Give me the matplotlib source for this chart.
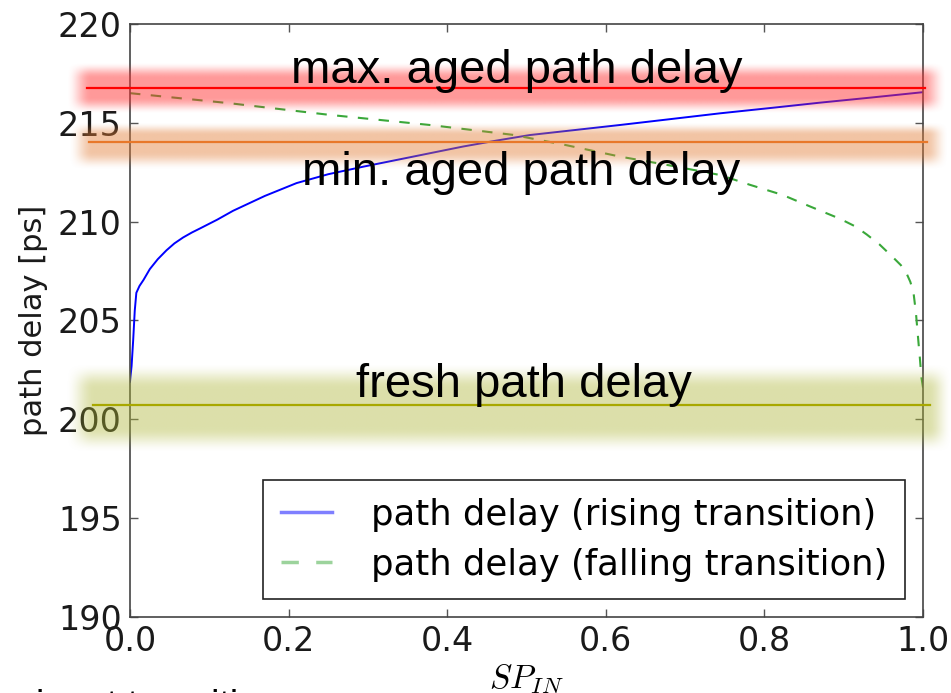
import numpy as np
import matplotlib
matplotlib.use('Agg')
import matplotlib.pyplot as plt

plt.rcParams['mathtext.fontset'] = 'cm'

# path delay for rising transition vs signal probability
sp_rise = [0, 0.002, 0.004, 0.006, 0.008, 0.012, 0.017, 0.025, 0.035, 0.046, 0.056,
           0.067, 0.078, 0.088, 0.11, 0.13, 0.17, 0.21, 0.25, 0.294, 0.336, 0.378,
           0.42, 0.462, 0.504, 0.56, 0.618, 0.68, 0.744, 0.81, 0.87, 0.935, 1.0]
delay_rise = [201.9, 202.7, 204.0, 205.5, 206.4, 206.75, 207.05, 207.6, 208.1, 208.55, 208.9,
              209.2, 209.45, 209.65, 210.1, 210.55, 211.3, 211.95, 212.4, 212.78, 213.12, 213.46,
              213.8, 214.1, 214.38, 214.63, 214.89, 215.18, 215.48, 215.76, 216.02, 216.28, 216.55]

# path delay for falling transition
sp_fall = [0, 0.126, 0.252, 0.378, 0.483, 0.55, 0.618, 0.68, 0.744, 0.782, 0.823, 0.858,
           0.895, 0.915, 0.929, 0.945, 0.962, 0.972, 0.979, 0.984, 0.988, 0.991, 0.994,
           0.996, 0.998, 1.0]
delay_fall = [216.5, 215.99, 215.4, 214.89, 214.39, 213.87, 213.29, 212.85, 212.36, 211.86, 211.35, 210.76,
              210.15, 209.75, 209.35, 208.85, 208.2, 207.8, 207.4, 206.95, 206.4, 205.4, 204.0,
              203.1, 202.1, 201.6]

# reference levels drawn over the plot
level_names = ['max. aged path delay', 'min. aged path delay', 'fresh path delay']
level_values = [216.78, 214.03, 200.71]

xticks = [0.0, 0.2, 0.4, 0.6, 0.8, 1.0]
yticks = [190, 195, 200, 205, 210, 215, 220]


def glow(ax, color, alpha, xo, xs, yo, ys):
    # soft blurred band: outer edges xo/yo, fully solid inside xs/ys
    def ramp(v, o, s):
        up = np.clip((v - o[0]) / (s[0] - o[0]), 0, 1)
        dn = np.clip((o[1] - v) / (o[1] - s[1]), 0, 1)
        t = np.minimum(up, dn)
        return t * t * (3 - 2 * t)
    gx = np.linspace(xo[0], xo[1], 600)
    gy = np.linspace(yo[0], yo[1], 200)
    a = np.outer(ramp(gy, yo, ys), ramp(gx, xo, xs))
    rgba = np.zeros((len(gy), len(gx), 4))
    rgba[..., :3] = matplotlib.colors.to_rgb(color)
    rgba[..., 3] = a * alpha
    ax.imshow(rgba, extent=(xo[0], xo[1], yo[0], yo[1]), origin='lower',
              aspect='auto', interpolation='bilinear', clip_on=False, zorder=3)


fig = plt.figure(figsize=(9.51, 6.93), dpi=100)
ax = fig.add_axes([0.1367, 0.1097, 0.8339, 0.8557])

ax.plot(sp_rise, delay_rise, color='#0000ff', lw=1.4, label='path delay (rising transition)', zorder=2)
ax.plot(sp_fall, delay_fall, color='#3aa83a', lw=1.5, dashes=(5, 5),
        label='path delay (falling transition)', zorder=2)

# glowing bands behind the level lines
glow(ax, '#ff3333', 0.5, (-0.081, 1.029), (-0.050, 0.998), (215.45, 218.08), (216.3, 217.25))
glow(ax, '#e27c35', 0.45, (-0.078, 1.032), (-0.048, 1.004), (212.62, 215.04), (213.55, 214.37))
glow(ax, '#adb535', 0.42, (-0.082, 1.036), (-0.046, 1.006), (198.3, 202.85), (199.6, 201.55))

line_colors = ['#ff0000', '#e8782a', '#a8a800']
line_x = [(-0.054, 1.0025), (-0.052, 1.005), (-0.047, 1.009)]
for val, c, xr in zip(level_values, line_colors, line_x):
    ax.plot(list(xr), [val, val], color=c, lw=1.6, clip_on=False, zorder=4)

# text labels for the levels
text_pos = [(0.488, 217.02), (0.493, 211.86), (0.497, 201.13)]
for name, (tx, ty) in zip(level_names, text_pos):
    ax.text(tx, ty, name, ha='center', va='baseline', fontsize=34,
            family='Liberation Sans', color='black', zorder=5)

ax.set_xlim(0, 1)
ax.set_ylim(190, 220)
ax.set_xticks(xticks)
ax.set_yticks(yticks)
ax.set_xticklabels(['%.1f' % t for t in xticks])
ax.tick_params(direction='in', length=6, width=1, top=True, right=True,
               labelsize=24, pad=6)
ax.tick_params(axis='both', colors='#555555', labelcolor='#1a1a1a')
for s in ax.spines.values():
    s.set_color('#444444')
    s.set_linewidth(1.2)

ax.set_ylabel('path delay [ps]', fontsize=22, color='#1a1a1a', labelpad=7)
ax.set_xlabel('$SP_{IN}$', fontsize=24, labelpad=3)

leg = ax.legend(loc='lower right', fontsize=25.5, fancybox=False, framealpha=1,
                edgecolor='#222222', handlelength=1.45, handletextpad=1.1,
                borderaxespad=0.5, borderpad=0.5, labelspacing=0.45)
leg.get_frame().set_linewidth(1.2)
for h in leg.get_lines():
    h.set_alpha(0.5)
    h.set_linewidth(2.5)

# caption of the slide below, mostly cut off by the figure edge
fig.text(36 / 951, -0.034, 'input transitions', fontsize=27, family='Liberation Sans',
         va='baseline', ha='left')

fig.savefig('out.png', dpi=100)
